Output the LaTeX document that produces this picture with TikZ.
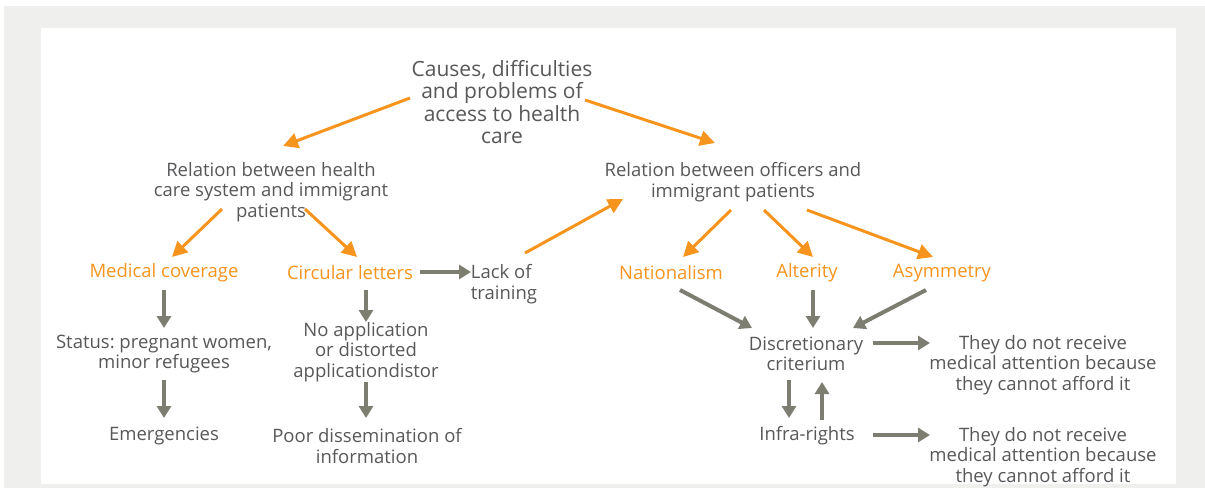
\documentclass[tikz,border=0pt]{standalone}
\usepackage{fontspec}
\setmainfont{Open Sans}
\usetikzlibrary{arrows.meta}

\definecolor{txtgray}{HTML}{58585A}
\definecolor{arrgray}{HTML}{7D7D72}
\definecolor{accent}{HTML}{F7941D}
\definecolor{panel}{HTML}{EFEFED}

\tikzset{
    txt/.style={inner sep=0pt, align=center, text=txtgray, font=\fontsize{18.5}{20.5}\selectfont},
    hot/.style={txt, text=accent},
    oarrow/.style={draw=accent, line width=3pt, -{Triangle[length=15pt, width=15pt]}},
    garrow/.style={draw=arrgray, line width=4pt, -{Triangle[length=12pt, width=14pt]}}
}

\begin{document}
\frenchspacing
\begin{tikzpicture}[x=1pt, y=-1pt]
    % Panel
    \fill[white] (0,0) rectangle (1205,488);
    \fill[panel] (4,6) rectangle (1205,488);
    \fill[white] (41,28) rectangle (1176,484);
    \useasboundingbox (0,0) rectangle (1205,488);

    % Root and the two relations
    \node[txt, font=\fontsize{21}{22.3}\selectfont] (causes) at (502,102)
        {Causes, difficulties\\and problems of\\access to health\\care};
    \node[txt] (system) at (271,192) {Relation between health\\care system and immigrant\\patients};
    \node[txt] (officers) at (733,182) {Relation between officers and\\immigrant patients};

    % Left branch
    \node[hot] (coverage) at (164,273) {Medical coverage};
    \node[hot] (letters) at (350,273) {Circular letters};
    \node[txt, align=left] (training) at (504,284) {Lack of\\training};
    \node[txt] (status) at (164,354) {Status: pregnant women,\\minor refugees};
    \node[txt] (noapp) at (366,352) {No application\\or distorted\\applicationdistor};
    \node[txt] (emergency) at (164,436) {Emergencies};
    \node[txt] (poorinfo) at (367,446) {Poor dissemination of\\information};

    % Right branch
    \node[hot] (nation) at (671,273) {Nationalism};
    \node[hot] (alterity) at (807,273) {Alterity};
    \node[hot] (asym) at (942,273) {Asymmetry};
    \node[txt] (discr) at (806,354) {Discretionary\\criterium};
    \node[txt] (infra) at (807,436) {Infra-rights};
    \node[txt] (afford1) at (1043,365) {They do not receive\\medical attention because\\they cannot afford it};
    \node[txt] (afford2) at (1043,457) {They do not receive\\medical attention because\\they cannot afford it};

    % Orange arrows
    \draw[oarrow] ([shift={(-92,-4)}]causes.center) -- ([shift={(12,-46)}]system.center);
    \draw[oarrow] ([shift={(83,-2)}]causes.center) -- ([shift={(-18,-39)}]officers.center);
    \draw[oarrow] ([shift={(-49,17)}]system.center) -- ([shift={(8,-16)}]coverage.center);
    \draw[oarrow] ([shift={(34,17)}]system.center) -- ([shift={(7,-16)}]letters.center);
    \draw[oarrow] ([shift={(21,-31)}]training.center) -- ([shift={(-110,17)}]officers.center);
    \draw[oarrow] ([shift={(-2,28)}]officers.center) -- ([shift={(12,-16)}]nation.center);
    \draw[oarrow] ([shift={(31,28)}]officers.center) -- ([shift={(6,-16)}]alterity.center);
    \draw[oarrow] ([shift={(74,28)}]officers.center) -- ([shift={(-9,-16)}]asym.center);

    % Gray arrows
    \draw[garrow] ([shift={(0,17)}]coverage.center) -- ([shift={(0,-26)}]status.center);
    \draw[garrow] ([shift={(0,26)}]status.center) -- ([shift={(0,-18)}]emergency.center);
    \draw[garrow] ([shift={(16,17)}]letters.center) -- ([shift={(0,-30)}]noapp.center);
    \draw[garrow] ([shift={(0,30)}]noapp.center) -- ([shift={(-1,-28)}]poorinfo.center);
    \draw[garrow] ([shift={(70,-1)}]letters.center) -- ([shift={(-33,-12)}]training.center);
    \draw[garrow] ([shift={(9,17)}]nation.center) -- ([shift={(-54,-26)}]discr.center);
    \draw[garrow] ([shift={(6,17)}]alterity.center) -- ([shift={(7,-26)}]discr.center);
    \draw[garrow] ([shift={(-16,17)}]asym.center) -- ([shift={(47,-26)}]discr.center);
    \draw[garrow] ([shift={(67,-11)}]discr.center) -- ([shift={(-113,-22)}]afford1.center);
    \draw[garrow] ([shift={(-17,26)}]discr.center) -- ([shift={(-18,-18)}]infra.center);
    \draw[garrow] ([shift={(15,-16)}]infra.center) -- ([shift={(16,28)}]discr.center);
    \draw[garrow] ([shift={(66,-1)}]infra.center) -- ([shift={(-113,-22)}]afford2.center);
\end{tikzpicture}
\end{document}
